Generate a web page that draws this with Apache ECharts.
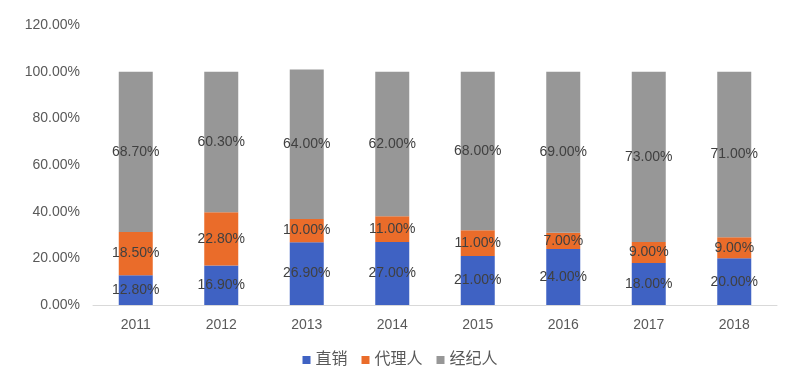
<!DOCTYPE html>
<html><head><meta charset="utf-8">
<script src="https://cdn.jsdelivr.net/npm/echarts@6/dist/echarts.min.js"></script>
<style>html,body{margin:0;padding:0;background:#fff}#c{width:800px;height:391px}</style>
</head><body><div id="c"></div>
<script>
var categories = ['2011','2012','2013','2014','2015','2016','2017','2018'];
var direct = [12.8, 16.9, 26.9, 27.0, 21.0, 24.0, 18.0, 20.0];
var agent = [18.5, 22.8, 10.0, 11.0, 11.0, 7.0, 9.0, 9.0];
var broker = [68.7, 60.3, 64.0, 62.0, 68.0, 69.0, 73.0, 71.0];
var seriesNames = ['直销', '代理人', '经纪人'];
var colors = ['#3F62C3', '#EA6C2A', '#979797'];

var font = '"Liberation Sans", "Noto Sans CJK SC", sans-serif';
function mk(name, data, color) {
  return {
    name: name, type: 'bar', stack: 'total', data: data, barWidth: 34,
    itemStyle: { color: color },
    label: { show: true, position: 'inside', color: '#404040', fontSize: 14, fontFamily: font,
      formatter: function (p) { return p.value.toFixed(2) + '%'; } }
  };
}
var chart = echarts.init(document.getElementById('c'));
chart.setOption({
  animation: false,
  backgroundColor: '#fff',
  color: colors,
  grid: { left: 93, right: 23, top: 25, bottom: 86 },
  legend: {
    data: seriesNames, bottom: 18, left: 'center', itemWidth: 8, itemHeight: 8, itemGap: 14,
    icon: 'rect', textStyle: { color: '#595959', fontSize: 16, fontFamily: font }
  },
  xAxis: {
    type: 'category', data: categories,
    axisLine: { lineStyle: { color: '#D9D9D9' } }, axisTick: { show: false },
    axisLabel: { color: '#595959', fontSize: 14, fontFamily: font, margin: 13 }
  },
  yAxis: {
    type: 'value', min: 0, max: 120, interval: 20,
    splitLine: { show: false }, axisLine: { show: false }, axisTick: { show: false },
    axisLabel: { color: '#595959', fontSize: 14, fontFamily: font, margin: 13,
      formatter: function (v) { return v.toFixed(2) + '%'; } }
  },
  series: [mk(seriesNames[0], direct, colors[0]), mk(seriesNames[1], agent, colors[1]), mk(seriesNames[2], broker, colors[2])]
});
</script></body></html>
